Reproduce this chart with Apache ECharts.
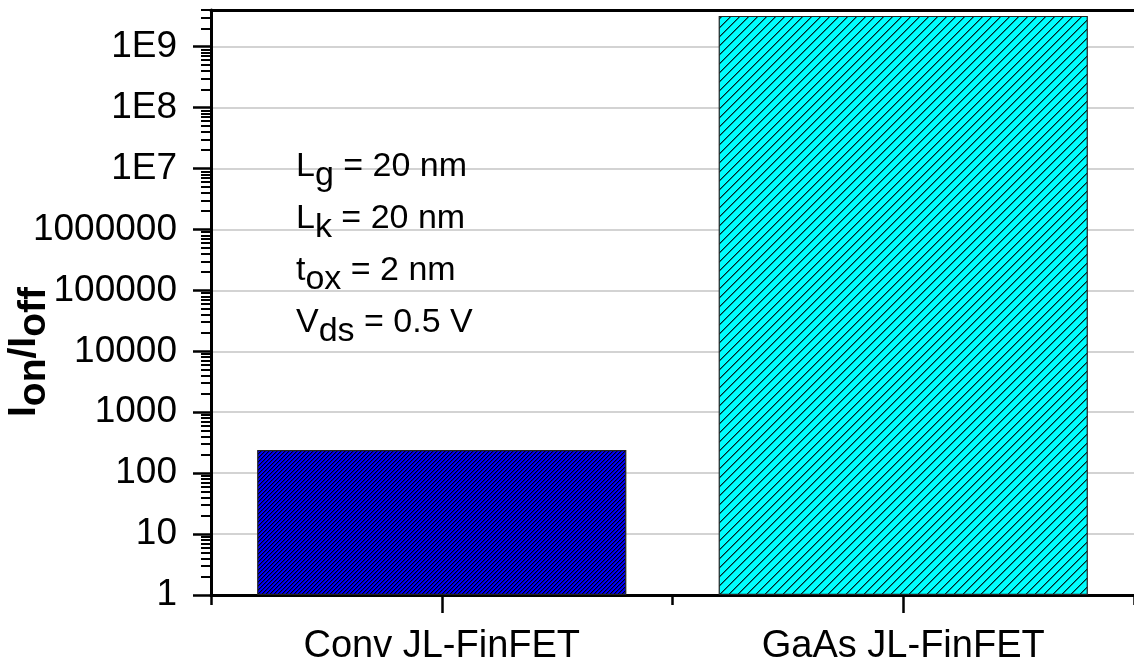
<!DOCTYPE html>
<html>
<head>
<meta charset="utf-8">
<script src="https://cdn.jsdelivr.net/npm/echarts@6/dist/echarts.min.js"></script>
<style>
html,body{margin:0;padding:0;background:#fff;}
#chart{width:1134px;height:666px;}
</style>
</head>
<body>
<div id="chart"></div>
<script>
const categories = ['Conv JL-FinFET', 'GaAs JL-FinFET'];
const ratioValues = [240, 3.2e9];
const barColors = ['#0000ff', '#00ffff'];
const yMin = 1;
const yMax = 4e9;
const majorTickValues = [1, 10, 100, 1000, 10000, 100000, 1000000, 1e7, 1e8, 1e9];
const yTickLabels = ['1', '10', '100', '1000', '10000', '100000', '1000000', '1E7', '1E8', '1E9'];
const minorTickValues = [];
for (let e = 0; e <= 9; e++) {
  for (let m = 2; m <= 9; m++) {
    const v = m * Math.pow(10, e);
    if (v <= yMax * 1.0001) minorTickValues.push(v);
  }
}
const annotationLines = [
  ['L', 'g', ' = 20 nm'],
  ['L', 'k', ' = 20 nm'],
  ['t', 'ox', ' = 2 nm'],
  ['V', 'ds', ' = 0.5 V']
];

const FONT = 'Liberation Sans, Arial, Helvetica, sans-serif';

function fmtY(v) {
  const i = majorTickValues.findIndex(t => Math.abs(t - v) / t < 1e-6);
  return i >= 0 ? yTickLabels[i] : '';
}

// diagonal hatch tile ("/" lines) over a base colour
function hatchTile(base, size, lineAlpha, thick) {
  const c = document.createElement('canvas');
  c.width = size; c.height = size;
  const g = c.getContext('2d');
  g.fillStyle = base;
  g.fillRect(0, 0, size, size);
  g.fillStyle = 'rgba(0,0,0,' + lineAlpha + ')';
  for (let i = 0; i < size; i++) {
    g.fillRect(i, size - 1 - i, 1, 1);
  }
  if (thick) {
    g.fillStyle = 'rgba(0,0,0,' + (lineAlpha * thick) + ')';
    for (let i = 0; i < size; i++) {
      g.fillRect(i, (size - i) % size, 1, 1);
    }
  }
  return c;
}
const hatchSpec = [
  {size: 4, alpha: 1, thick: 0.35},
  {size: 9, alpha: 0.85, thick: 0.55}
];

const chart = echarts.init(document.getElementById('chart'), null, {renderer: 'canvas'});

const annText = annotationLines.map(l => '{m|' + l[0] + '}{s|' + l[1] + '}{m|' + l[2] + '}').join('\n');

const option = {
  animation: false,
  backgroundColor: '#fff',
  grid: {left: 211, top: 10, right: -1, bottom: 70, containLabel: false},
  xAxis: [
    {
      type: 'category', data: categories, position: 'bottom',
      axisLine: {show: true, lineStyle: {color: '#000', width: 3}},
      axisTick: {show: true, alignWithLabel: true, length: 18, lineStyle: {color: '#000', width: 2.5}},
      axisLabel: {show: true, color: '#000', fontSize: 38, fontFamily: FONT, margin: 33},
      splitLine: {show: false}
    },
    {
      type: 'category', data: categories, position: 'bottom',
      axisLine: {show: false},
      axisTick: {show: true, alignWithLabel: false, length: 10, lineStyle: {color: '#000', width: 2.5}},
      axisLabel: {show: false},
      splitLine: {show: false}
    },
    {
      type: 'category', data: categories, position: 'top',
      axisLine: {show: true, lineStyle: {color: '#000', width: 3}},
      axisTick: {show: false},
      axisLabel: {show: false},
      splitLine: {show: false}
    }
  ],
  yAxis: [
    {
      type: 'log', logBase: 10, min: yMin, max: yMax, position: 'left',
      axisLine: {show: true, lineStyle: {color: '#000', width: 3}},
      axisTick: {show: true, length: 18, customValues: majorTickValues, lineStyle: {color: '#000', width: 2.5}},
      axisLabel: {show: true, customValues: majorTickValues, formatter: fmtY, color: '#000', fontSize: 37, fontFamily: FONT, margin: 34},
      splitLine: {show: true, lineStyle: {color: '#c4c4c4', width: 1.5}}
    },
    {
      type: 'log', logBase: 10, min: yMin, max: yMax, position: 'left',
      axisLine: {show: false},
      axisTick: {show: true, length: 10, customValues: minorTickValues, lineStyle: {color: '#000', width: 2}},
      axisLabel: {show: false},
      splitLine: {show: false}
    }
  ],
  series: [
    {
      type: 'bar',
      xAxisIndex: 0, yAxisIndex: 0,
      barWidth: '80%',
      data: ratioValues.map((v, i) => ({
        value: v,
        itemStyle: {
          color: {image: hatchTile(barColors[i], hatchSpec[i].size, hatchSpec[i].alpha, hatchSpec[i].thick), repeat: 'repeat'},
          borderColor: '#222',
          borderWidth: 1.2
        }
      }))
    }
  ],
  graphic: [
    {
      type: 'text', x: 296, y: 141, z: 10,
      style: {
        text: annText,
        textAlign: 'left', textVerticalAlign: 'top',
        rich: {
          m: {fontSize: 34, fontFamily: FONT, color: '#000', lineHeight: 52},
          s: {fontSize: 34, fontFamily: FONT, color: '#000', lineHeight: 34, verticalAlign: 'bottom'}
        }
      }
    },
    {
      type: 'text', x: -6, y: 417, rotation: Math.PI / 2, z: 10,
      style: {
        text: '{m|I}{s|on}{m|/I}{s|off}',
        textAlign: 'left', textVerticalAlign: 'top',
        rich: {
          m: {fontSize: 39, fontWeight: 'bold', fontFamily: FONT, color: '#000', lineHeight: 60},
          s: {fontSize: 39, fontWeight: 'bold', fontFamily: FONT, color: '#000', lineHeight: 39, verticalAlign: 'bottom'}
        }
      }
    }
  ]
};
chart.setOption(option);
</script>
</body>
</html>
